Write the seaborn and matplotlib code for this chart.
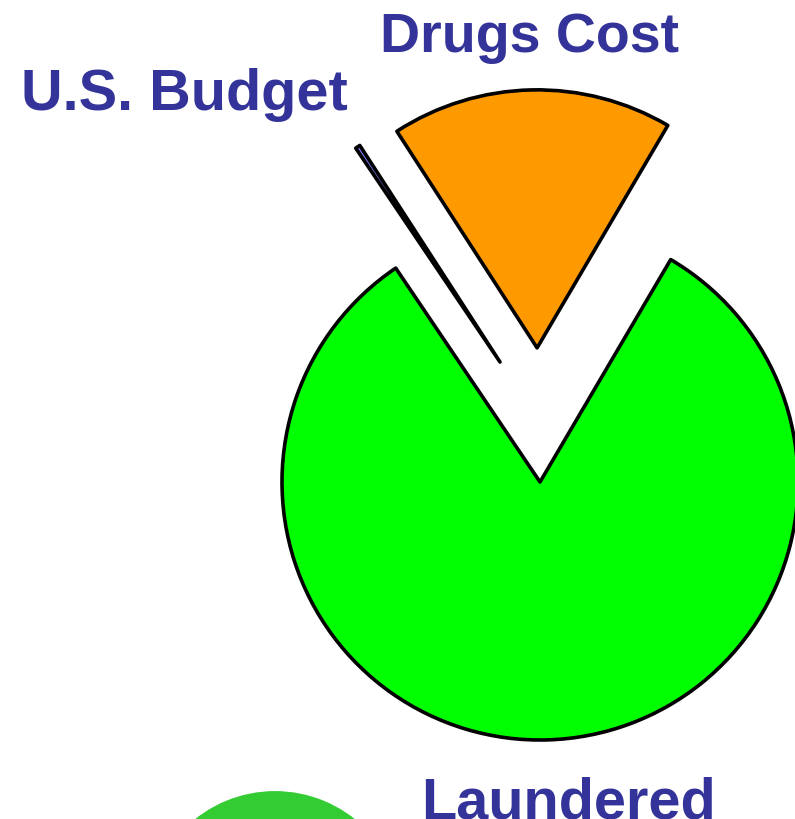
import matplotlib
matplotlib.use('Agg')
import matplotlib.pyplot as plt
import seaborn as sns

# slice shares (percent of the whole)
labels = ['Laundered', 'Drugs Cost', 'U.S. Budget']
shares = [82.1, 17.6, 0.3]
colors = ['#00ff00', '#ff9900', '#8080ff']
explode = [0.0, 0.52, 0.49]

# partly visible second chart at the bottom edge
other_shares = [1]
other_colors = ['#33cc33']

sns.set_theme(style='white')
plt.rcParams['font.family'] = ['Liberation Sans', 'DejaVu Sans']

fig = plt.figure(figsize=(7.95, 8.2), dpi=100)
ax = fig.add_axes([0, 0, 1, 1])

wedges, _ = ax.pie(shares, colors=colors, explode=explode, startangle=124,
                   counterclock=True, radius=1.0,
                   wedgeprops={'edgecolor': 'black', 'linewidth': 2.6,
                               'joinstyle': 'round'})
# the thin budget sliver sits a little off its own axis in the source
wedges[2].set_center((-0.155, 0.465))

ax.pie(other_shares, colors=other_colors, center=(-1.027, -1.694), radius=0.496,
       wedgeprops={'linewidth': 0})

label_color = '#333399'
label_pos = {'Drugs Cost': (-0.039, 1.671, 40),
             'U.S. Budget': (-1.380, 1.446, 41.5),
             'Laundered': (0.112, -1.300, 41.5)}
for name in labels:
    x, y, size = label_pos[name]
    ax.text(x, y, name, ha='center', va='baseline', fontsize=size,
            fontweight='bold', color=label_color)

ax.set_xlim(-540 / 258, 255 / 258)
ax.set_ylim(-337 / 258, 483 / 258)
ax.set_aspect('auto')
ax.axis('off')

fig.savefig('out.png', dpi=100)
